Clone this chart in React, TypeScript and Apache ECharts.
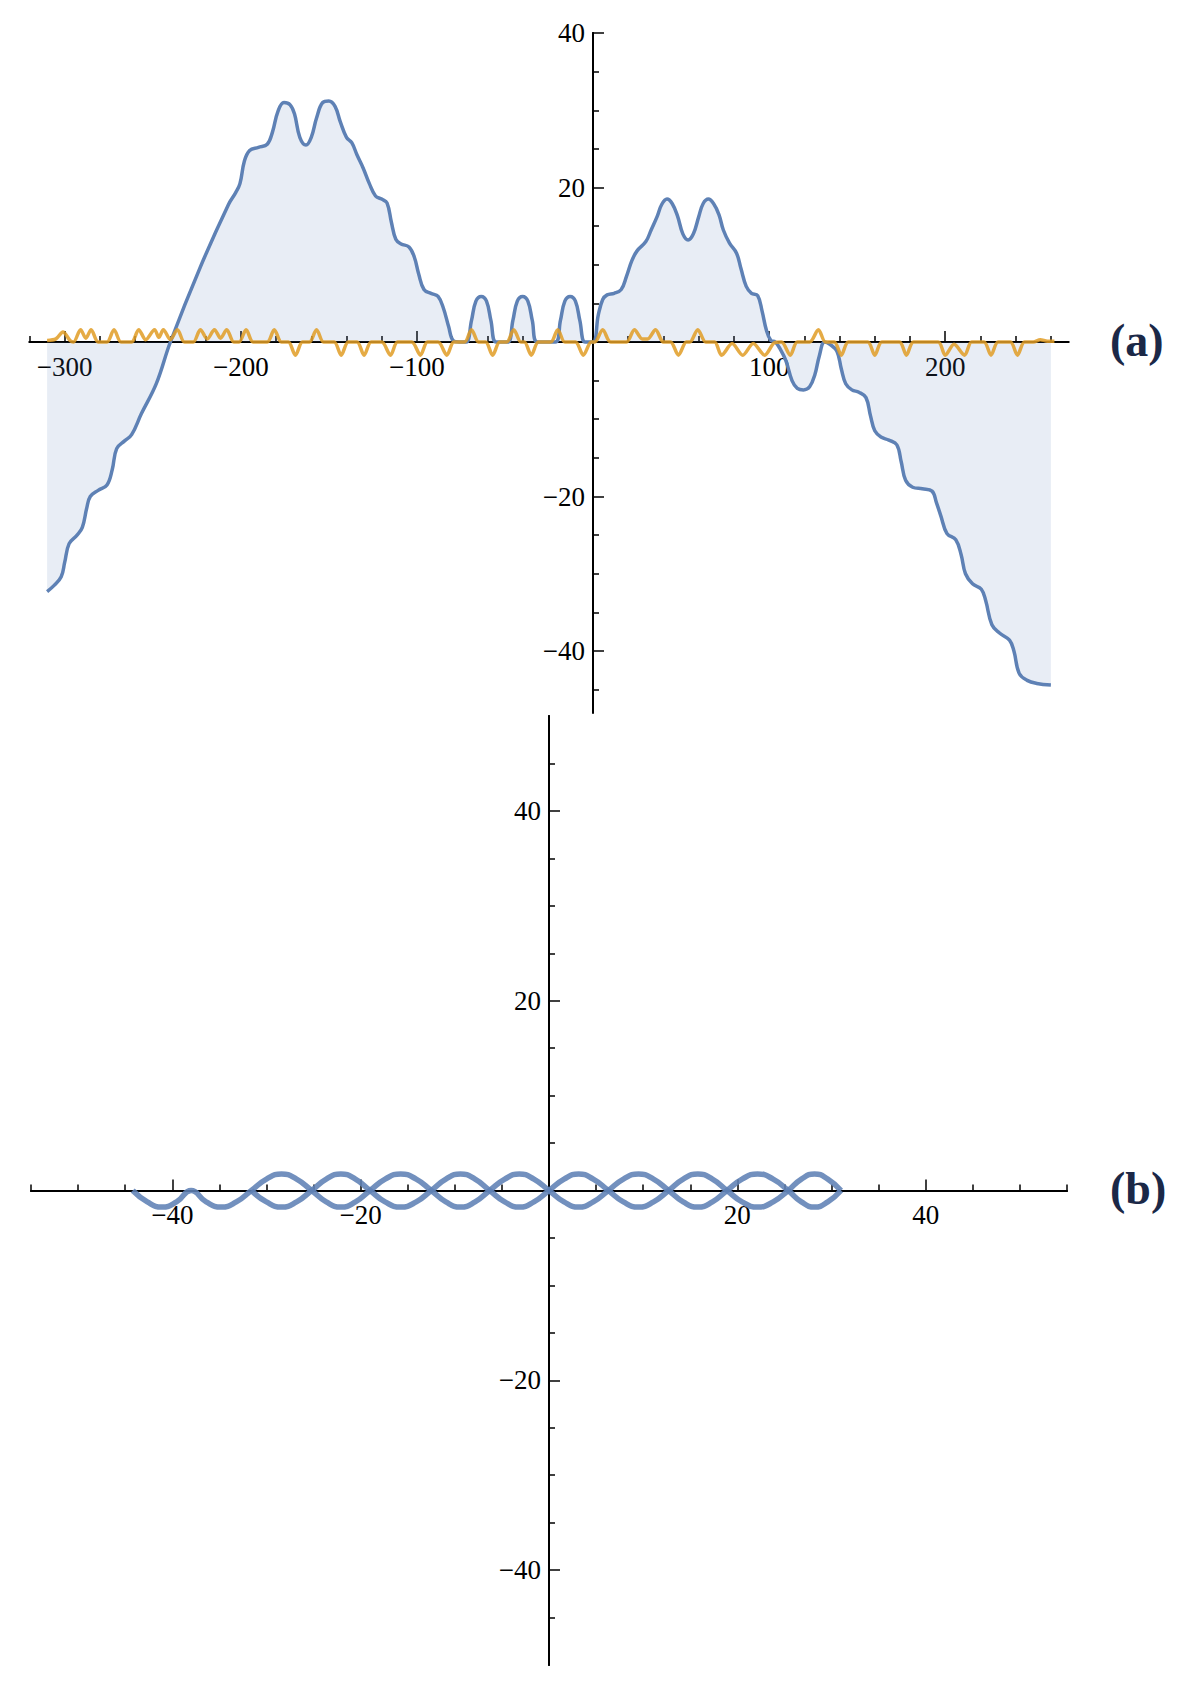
import React, { useEffect, useRef } from 'react';
import * as echarts from 'echarts';

// ---------- Panel (a) data ----------
const aBlue: number[][] = [
  [-310, -32.3], [-306, -31.5], [-302, -30.4], [-300, -28.5], [-297.5, -26.1], [-293, -25], [-290, -24],
  [-287.5, -21.5], [-285.5, -20], [-281, -19.2], [-276, -18.5], [-273, -16.5], [-270.5, -13.8],
  [-266, -12.8], [-262, -12], [-256.5, -9.3], [-248, -5.4], [-240, 0], [-223, 9.7], [-207, 17.8],
  [-203, 19.3], [-200.5, 20.5], [-198, 23.4], [-195, 24.8], [-190, 25.2], [-185, 25.6], [-182, 27.2],
  [-179, 29.8], [-175.5, 31], [-172, 30.7], [-169.5, 29.5], [-166.5, 26.5], [-163, 25.5], [-160, 26.5],
  [-157, 29], [-153.5, 31], [-150, 31.2], [-146.5, 30.5], [-143.5, 28.5], [-140, 26.5], [-137, 25.8],
  [-134, 24.2], [-130.5, 22.5], [-127, 20.5], [-123.5, 18.9], [-120, 18.5], [-117, 18], [-114.5, 15.5],
  [-112, 13.3], [-109, 12.7], [-104.5, 12.3], [-101.5, 11], [-99, 8.8], [-96, 6.8], [-92, 6.3],
  [-88, 5.9], [-85, 4.4], [-82, 2], [-79.5, 0.2], [-76, 0], [-72, 0], [-69, 2.8], [-66.5, 5.3],
  [-63.5, 5.9], [-60.5, 5.3], [-58, 2.8], [-55, 0], [-48.5, 0], [-45.5, 2.8], [-43, 5.3], [-40, 5.9],
  [-37, 5.3], [-34.5, 2.8], [-31.5, 0], [-21.5, 0], [-18.5, 2.8], [-16, 5.3], [-13, 5.9], [-10, 5.3],
  [-7.5, 2.8], [-4.5, 0], [0, 0], [3, 3.5], [5.5, 5.5], [8, 6.1], [12, 6.3], [16, 6.8], [19, 8.5],
  [22, 10.5], [25, 11.8], [30, 13], [33, 14.5], [36.5, 16.3], [39, 17.8], [42, 18.5], [45, 17.9],
  [48, 16.3], [51, 14], [54, 13.2], [57, 14], [60, 16.2], [62.5, 17.9], [65.5, 18.5], [68.5, 17.9],
  [71.5, 16.5], [74, 14.5], [77.5, 12.8], [81.5, 11.5], [84, 9.5], [87, 7.2], [90, 6.3], [93.5, 6],
  [96, 4], [98.5, 1.5], [101, 0.2], [103.5, 0], [106, -0.8], [109.5, -2.4], [113, -5], [116, -6],
  [119.5, -6.2], [123, -5.8], [126, -4.2], [128.5, -1.8], [131.5, 0], [134.5, -0.3], [138.5, -1.2],
  [141, -3.5], [143.5, -5.4], [147, -6.2], [151, -6.5], [155, -7.2], [157.5, -9.5], [160, -11.5],
  [163.5, -12.3], [168, -12.7], [172.5, -13.3], [175, -15.5], [177.5, -17.9], [181.5, -18.8],
  [187, -19], [192.5, -19.3], [195, -20.8], [197.5, -22.5], [201, -24.8], [206, -25.6], [209, -27.5],
  [211.5, -30], [215.5, -31.3], [220.5, -32], [223, -33.5], [226.5, -36.6], [231, -37.7],
  [236.5, -38.6], [239, -40], [242, -42.9], [246.5, -43.8], [252, -44.2], [260, -44.4],
];

const aOrange: number[][] = [
  [-310, 0.2], [-305, 0.4], [-301, 1.3], [-297, 0.2], [-295, 0], [-291, 1.6], [-288, 0.5], [-285, 1.6],
  [-281, 0], [-276, 0], [-272, 1.6], [-268, 0], [-262, 0], [-258, 1.6], [-254, 0.3], [-249, 1.6],
  [-246.5, 0.6], [-244, 1.6], [-240, 0.3], [-236, 1.6], [-232, 0], [-227, 0], [-223, 1.6], [-219, 0.4],
  [-215, 1.6], [-211.5, 0.5], [-208, 1.6], [-204, 0], [-201, 0], [-197, 1.6], [-193, 0], [-185, 0],
  [-181, 1.6], [-177, 0], [-173, 0], [-169, -1.7], [-165, 0], [-161, 0], [-157, 1.6], [-153, 0],
  [-147, 0], [-143, -1.7], [-139, 0], [-134, 0], [-130, -1.7], [-126, 0], [-120, 0], [-115, -1.7],
  [-111, 0], [-103, 0], [-98, -1.7], [-94, 0], [-88, 0], [-83, -1.7], [-79, 0], [-73, 0], [-69, 1.6],
  [-65, 0], [-61, 0], [-57, -1.7], [-53, 0], [-49, 0], [-45, 1.6], [-41, 0], [-39, 0], [-35, -1.7],
  [-31, 0], [-24, 0], [-20, 1.6], [-16, 0], [-10, 0], [-5.5, -1.7], [-1, 0], [1, 0], [5.5, 1.6],
  [10, 0], [19, 0], [23.5, 1.6], [28, 0.4], [31, 0.4], [35.5, 1.6], [40, 0], [44, 0], [48.5, -1.7],
  [53, 0], [55, 0], [59.5, 1.6], [64, 0], [69, 0], [73, -1.7], [79, -0.2], [85, -1.7], [91, -0.2],
  [97.5, -1.7], [103, -0.1], [107, 0], [112, -1.7], [116, 0], [123, 0], [128, 1.6], [132, 0],
  [137, 0], [141, -1.7], [145, 0], [156, 0], [160, -1.7], [164, 0], [174, 0], [178, -1.7], [182, 0],
  [196, 0], [200, -1.7], [205, -0.3], [211, -1.7], [215, 0], [222, 0], [226, -1.7], [230, 0],
  [237, 0], [241, -1.7], [245, 0], [250, 0], [254, 0.3], [258, 0.1], [262, 0.1],
];

// ---------- Panel (b) data ----------
const bCurve1: number[][] = [
  [-44.2, 0], [-42.65, -1.2], [-41.1, -1.75], [-39.55, -1.2], [-38, 0], [-36.4, -1.2], [-34.8, -1.75],
  [-33.2, -1.2], [-31.6, 0], [-30, 1.2], [-28.4, 1.75], [-26.8, 1.2], [-25.2, 0], [-23.65, -1.2],
  [-22.1, -1.75], [-20.55, -1.2], [-19, 0], [-17.4, 1.2], [-15.75, 1.75], [-14.1, 1.2], [-12.5, 0],
  [-10.95, -1.2], [-9.4, -1.75], [-7.85, -1.2], [-6.3, 0], [-4.7, 1.2], [-3.15, 1.75], [-1.6, 1.2],
  [0, 0], [1.6, -1.2], [3.15, -1.75], [4.7, -1.2], [6.3, 0], [7.9, 1.2], [9.5, 1.75], [11.1, 1.2],
  [12.7, 0], [14.25, -1.2], [15.8, -1.75], [17.35, -1.2], [18.9, 0], [20.5, 1.2], [22.15, 1.75],
  [23.8, 1.2], [25.4, 0], [26.8, -1.2], [28.2, -1.75], [29.6, -1.2], [31, 0],
];
const bCurve2: number[][] = [
  [-31.6, 0], [-30, -1.2], [-28.4, -1.75], [-26.8, -1.2], [-25.2, 0], [-23.65, 1.2],
  [-22.1, 1.75], [-20.55, 1.2], [-19, 0], [-17.4, -1.2], [-15.75, -1.75], [-14.1, -1.2], [-12.5, 0],
  [-10.95, 1.2], [-9.4, 1.75], [-7.85, 1.2], [-6.3, 0], [-4.7, -1.2], [-3.15, -1.75], [-1.6, -1.2],
  [0, 0], [1.6, 1.2], [3.15, 1.75], [4.7, 1.2], [6.3, 0], [7.9, -1.2], [9.5, -1.75], [11.1, -1.2],
  [12.7, 0], [14.25, 1.2], [15.8, 1.75], [17.35, 1.2], [18.9, 0], [20.5, -1.2], [22.15, -1.75],
  [23.8, -1.2], [25.4, 0], [26.8, 1.2], [28.2, 1.75], [29.6, 1.2], [31, 0],
];

// ---------- Ticks / labels / ranges ----------
const aXRange = [-320, 270];
const aYRange = [-48, 40];
const bXRange = [-55, 55];
const bYRange = [-50, 50];
const aXMajor = [-300, -200, -100, 100, 200];
const aXMinor = [-320, -280, -260, -240, -220, -180, -160, -140, -120, -80, -60, -40, -20, 20, 40, 60, 80, 120, 140, 160, 180, 220, 240, 260];
const aYMajor = [-40, -20, 20, 40];
const aYMinor = [-45, -35, -30, -25, -15, -10, -5, 5, 10, 15, 25, 30, 35];
const bXMajor = [-40, -20, 20, 40];
const bXMinor = [-55, -50, -45, -35, -30, -25, -15, -10, -5, 5, 10, 15, 25, 30, 35, 45, 50, 55];
const bYMajor = [-40, -20, 20, 40];
const bYMinor = [-45, -35, -30, -25, -15, -10, -5, 5, 10, 15, 25, 30, 35, 45];
const panelLabels = ['(a)', '(b)'];

const BLUE = '#5e81b5';
const ORANGE = '#e19c24';
const FONT = 'Liberation Serif';

const fmt = (v: number) => (v < 0 ? '\u2212' + Math.abs(v) : String(v));

type Rect = { left: number; top: number; width: number; height: number };

// axis placed on the zero line of the other axis (via offset into the grid)
function axisDef(
  dim: 'x' | 'y', gridIndex: number, g: Rect, range: number[], other: number[],
  ticks: number[], labels: number[] | null, len: number,
) {
  const frac = (0 - other[0]) / (other[1] - other[0]);
  const offset = dim === 'x' ? -g.height * frac : -g.width * frac;
  return {
    type: 'value',
    gridIndex,
    min: range[0],
    max: range[1],
    position: dim === 'x' ? 'bottom' : 'left',
    offset,
    axisLine: { show: true, onZero: false, lineStyle: { color: '#000', width: 2 } },
    axisTick: { show: true, inside: true, length: len, customValues: ticks, lineStyle: { color: '#000', width: 1.5 } },
    axisLabel: labels
      ? { show: true, customValues: labels, formatter: fmt, margin: dim === 'x' ? 11 : 8, fontFamily: FONT, fontSize: 27, color: '#000' }
      : { show: false },
    splitLine: { show: false },
  };
}

export default function App() {
  const ref = useRef<HTMLDivElement>(null);
  useEffect(() => {
    if (!ref.current) return;
    const chart = echarts.init(ref.current, undefined, { renderer: 'svg' });
    const gA: Rect = { left: 29.5, top: 33, width: 1039, height: 679.8 };
    const gB: Rect = { left: 31, top: 716, width: 1036, height: 949 };
    const gridOpt = (g: Rect) => ({ ...g, containLabel: false, outerBoundsMode: 'none' });
    chart.setOption({
      animation: false,
      backgroundColor: '#fff',
      textStyle: { fontFamily: FONT },
      grid: [gridOpt(gA), gridOpt(gA), gridOpt(gB), gridOpt(gB)],
      xAxis: [
        axisDef('x', 0, gA, aXRange, aYRange, aXMajor, aXMajor, 11),
        axisDef('x', 1, gA, aXRange, aYRange, aXMinor, null, 6),
        axisDef('x', 2, gB, bXRange, bYRange, bXMajor, bXMajor, 11),
        axisDef('x', 3, gB, bXRange, bYRange, bXMinor, null, 6),
      ],
      yAxis: [
        axisDef('y', 0, gA, aYRange, aXRange, aYMajor, aYMajor, 11),
        axisDef('y', 1, gA, aYRange, aXRange, aYMinor, null, 6),
        axisDef('y', 2, gB, bYRange, bXRange, bYMajor, bYMajor, 11),
        axisDef('y', 3, gB, bYRange, bXRange, bYMinor, null, 6),
      ],
      series: [
        {
          type: 'line', name: 'a1', xAxisIndex: 0, yAxisIndex: 0, data: aBlue, showSymbol: false,
          smooth: 0.4,
          lineStyle: { color: BLUE, width: 3.5 },
          areaStyle: { color: 'rgba(94,129,181,0.2)', origin: 0 },
          z: 3,
        },
        {
          type: 'line', name: 'a2', xAxisIndex: 0, yAxisIndex: 0, data: aOrange, showSymbol: false,
          smooth: 0.3,
          lineStyle: { color: ORANGE, width: 3.5, opacity: 0.85 },
          z: 4,
        },
        {
          type: 'line', name: 'b1', xAxisIndex: 2, yAxisIndex: 2, data: bCurve1, showSymbol: false,
          smooth: 0.5,
          lineStyle: { color: BLUE, width: 5.5, opacity: 0.88 },
          z: 3,
        },
        {
          type: 'line', name: 'b2', xAxisIndex: 2, yAxisIndex: 2, data: bCurve2, showSymbol: false,
          smooth: 0.5,
          lineStyle: { color: BLUE, width: 5.5, opacity: 0.88 },
          z: 3,
        },
      ],
      graphic: [
        { type: 'text', left: 1110, top: 317, style: { text: panelLabels[0], fontFamily: FONT, fontWeight: 'bold', fontSize: 46, fill: '#1b2847' } },
        { type: 'text', left: 1110, top: 1165, style: { text: panelLabels[1], fontFamily: FONT, fontWeight: 'bold', fontSize: 46, fill: '#1b2847' } },
      ],
    });
    return () => chart.dispose();
  }, []);
  return (
    <div
      ref={ref}
      style={{ position: 'absolute', left: 0, top: 0, width: 1194, height: 1688, background: '#fff' }}
    />
  );
}
